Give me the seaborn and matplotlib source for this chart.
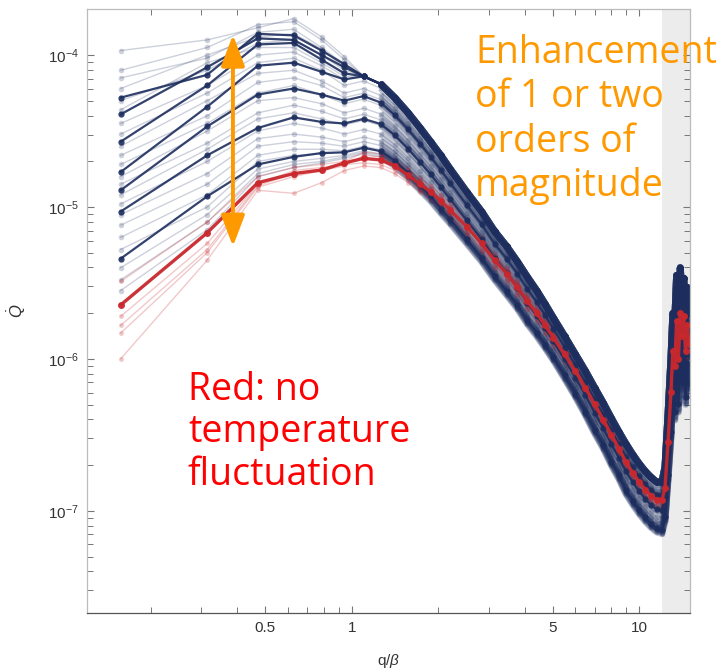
import numpy as np
import pandas as pd
import seaborn as sns
import matplotlib.pyplot as plt
from matplotlib.ticker import FixedLocator, FixedFormatter, LogLocator, NullFormatter

# q/beta columns where the curves still differ
q_low = [0.157, 0.314, 0.471, 0.628, 0.785, 0.942]
# shared high-q part
q_tail = [1.10, 1.26, 1.41, 1.57, 1.73, 1.88, 2.04, 2.20, 2.51, 2.83, 3.14,
          3.46, 3.77, 4.08, 4.40, 4.71, 5.03, 5.50, 6.00, 6.50, 7.00, 7.50,
          8.00, 8.50, 9.00, 9.50, 10.0, 10.5, 11.0, 11.5, 12.0, 12.3, 12.6,
          12.9, 13.1, 13.3, 13.5, 13.7, 13.9, 14.1, 14.3, 14.5, 14.7, 14.9]

# log10(Q) of the reference (no temperature fluctuation) curve
red_low = [-5.645, -5.17, -4.84, -4.78, -4.757, -4.71]
red_tail = [-4.68, -4.69, -4.73, -4.79, -4.85, -4.90, -4.96, -5.02, -5.13,
            -5.24, -5.35, -5.44, -5.53, -5.62, -5.70, -5.78, -5.86, -5.97,
            -6.08, -6.19, -6.30, -6.40, -6.50, -6.59, -6.68, -6.75, -6.81,
            -6.86, -6.90, -6.93, -6.93, -6.85, -6.55, -6.22, -5.95, -6.05,
            -5.75, -6.00, -5.70, -5.85, -5.72, -5.95, -5.78, -5.90]

# spread of the blue bundle around the red curve (decades)
band_up = [0.54, 0.50, 0.45, 0.41, 0.37, 0.33, 0.30, 0.27, 0.23, 0.21, 0.19,
           0.18, 0.17, 0.16, 0.15, 0.14, 0.13, 0.12, 0.11, 0.11, 0.11, 0.11,
           0.11, 0.11, 0.12, 0.12, 0.12, 0.12, 0.12, 0.12, 0.12, 0.14, 0.18,
           0.22, 0.25, 0.30, 0.30, 0.30, 0.30, 0.28, 0.25, 0.25, 0.25, 0.20]
band_lo = [0.03, 0.02, 0.00, -0.02, -0.04, -0.06, -0.08, -0.09, -0.11, -0.12,
           -0.13, -0.14, -0.14, -0.15, -0.15, -0.15, -0.15, -0.16, -0.17,
           -0.18, -0.19, -0.19, -0.20, -0.20, -0.21, -0.21, -0.21, -0.21,
           -0.21, -0.21, -0.22, -0.22, -0.25, -0.30, -0.30, -0.35, -0.35,
           -0.35, -0.30, -0.35, -0.30, -0.35, -0.30, -0.30]

# highlighted fluctuation runs, log10(Q) at q_low
blue_dark = [
    [-4.28, -4.13, -3.86, -3.87, -3.97, -4.06],
    [-4.39, -4.08, -3.89, -3.90, -4.00, -4.08],
    [-4.57, -4.20, -3.93, -3.92, -4.03, -4.12],
    [-4.77, -4.34, -4.07, -4.05, -4.11, -4.16],
    [-4.89, -4.47, -4.26, -4.22, -4.26, -4.30],
    [-5.03, -4.66, -4.48, -4.41, -4.44, -4.45],
    [-5.34, -4.93, -4.72, -4.67, -4.645, -4.64],
]

# remaining fluctuation runs
blue_faint = [
    [-3.97, -3.90, -3.82, -3.76, -3.88, -4.01],
    [-4.10, -3.95, -3.80, -3.78, -3.90, -4.03],
    [-4.15, -4.02, -3.85, -3.83, -3.95, -4.06],
    [-4.22, -4.00, -3.88, -3.86, -3.96, -4.08],
    [-4.30, -4.10, -3.92, -3.90, -4.00, -4.10],
    [-4.36, -4.05, -3.95, -3.95, -4.05, -4.14],
    [-4.45, -4.20, -4.00, -3.98, -4.07, -4.16],
    [-4.52, -4.25, -4.05, -4.02, -4.10, -4.20],
    [-4.60, -4.30, -4.12, -4.10, -4.17, -4.25],
    [-4.66, -4.40, -4.18, -4.15, -4.20, -4.28],
    [-4.72, -4.45, -4.25, -4.20, -4.26, -4.32],
    [-4.80, -4.50, -4.30, -4.28, -4.32, -4.38],
    [-4.85, -4.58, -4.38, -4.33, -4.37, -4.42],
    [-4.92, -4.62, -4.42, -4.38, -4.42, -4.46],
    [-4.98, -4.70, -4.50, -4.45, -4.48, -4.52],
    [-5.05, -4.78, -4.55, -4.52, -4.54, -4.57],
    [-5.12, -4.85, -4.60, -4.57, -4.58, -4.60],
    [-5.20, -4.92, -4.66, -4.62, -4.62, -4.63],
    [-5.28, -5.00, -4.70, -4.66, -4.65, -4.64],
    [-5.40, -5.05, -4.75, -4.70, -4.68, -4.66],
    [-5.48, -5.10, -4.78, -4.72, -4.70, -4.67],
    [-5.55, -5.15, -4.80, -4.74, -4.71, -4.68],
]

# faint red runs and their offset from the red curve at high q
red_faint = [
    [-5.49, -5.10, -4.80, -4.74, -4.72, -4.70],
    [-5.72, -5.24, -4.85, -4.76, -4.74, -4.72],
    [-5.83, -5.30, -4.87, -4.80, -4.76, -4.73],
    [-6.00, -5.35, -4.89, -4.91, -4.84, -4.76],
    [-5.78, -5.28, -4.86, -4.78, -4.75, -4.71],
]
red_faint_shift = [0.04, -0.03, 0.02, -0.05, 0.0]

NAVY = "#1d2e5e"
RED = "#c9282d"
ORANGE = "#ff9900"


def build(curves, group):
    rows = []
    up = np.array(band_up)
    lo = np.array(band_lo)
    for i, low in enumerate(curves):
        if group == "red_faint":
            tail = np.array(red_tail) + red_faint_shift[i]
        else:
            a = (low[-1] - red_low[-1] - band_lo[0]) / (band_up[0] - band_lo[0])
            a = min(max(a, 0.0), 1.0)
            tail = np.array(red_tail) + a * up + (1 - a) * lo
        logq = list(low) + list(tail)
        for x, y in zip(q_low + q_tail, logq):
            rows.append({"q": x, "Q": 10 ** y, "run": i, "group": group})
    return pd.DataFrame(rows)


df_faint = build(blue_faint, "blue_faint")
df_dark = build(blue_dark, "blue_dark")
df_rfaint = build(red_faint, "red_faint")
df_red = pd.DataFrame({"q": q_low + q_tail,
                       "Q": [10 ** v for v in red_low + red_tail]})
df_blue_tail = pd.concat([df_faint, df_dark.assign(run=df_dark["run"] + 100)])
df_blue_tail = df_blue_tail[df_blue_tail["q"] >= 1.2]

sns.set_theme(style="ticks")
plt.rcParams["font.family"] = ["Liberation Sans", "DejaVu Sans"]
plt.rcParams["mathtext.fontset"] = "custom"
plt.rcParams["mathtext.rm"] = "Liberation Sans"
plt.rcParams["mathtext.it"] = "Liberation Sans:italic"

fig = plt.figure(figsize=(7.2, 6.69), dpi=100)
ax = fig.add_axes([0.121, 0.084, 0.837, 0.902])
ax.set_xscale("log")
ax.set_yscale("log")

ax.axvspan(12.0, 15.0, color="#ececec", zorder=0, lw=0)

# the dense marker band at high q
sns.lineplot(data=df_blue_tail, x="q", y="Q", units="run", estimator=None,
             color=NAVY, alpha=0.25, lw=5, solid_capstyle="butt", ax=ax)
sns.lineplot(data=df_faint, x="q", y="Q", units="run", estimator=None,
             color=NAVY, alpha=0.22, lw=1.0, marker="o", markersize=4,
             markeredgewidth=0, ax=ax)
sns.lineplot(data=df_rfaint, x="q", y="Q", units="run", estimator=None,
             color=RED, alpha=0.25, lw=1.0, marker="o", markersize=3.5,
             markeredgewidth=0, ax=ax)
sns.lineplot(data=df_dark, x="q", y="Q", units="run", estimator=None,
             color=NAVY, alpha=0.9, lw=1.6, marker="o", markersize=4.5,
             markeredgewidth=0, ax=ax)
sns.lineplot(data=df_red, x="q", y="Q", color=RED, alpha=0.95, lw=2.4,
             marker="o", markersize=5, markeredgewidth=0, ax=ax)

ax.set_xlim(0.12, 15.0)
ax.set_ylim(2.13e-8, 2.0e-4)

ax.xaxis.set_major_locator(FixedLocator([0.5, 1, 5, 10]))
ax.xaxis.set_major_formatter(FixedFormatter(["0.5", "1", "5", "10"]))
ax.xaxis.set_minor_locator(FixedLocator([0.2, 0.3, 0.4, 0.6, 0.7, 0.8, 0.9,
                                         2, 3, 4, 6, 7, 8, 9]))
ax.xaxis.set_minor_formatter(NullFormatter())
ax.yaxis.set_major_locator(FixedLocator([1e-7, 1e-6, 1e-5, 1e-4]))
ax.yaxis.set_major_formatter(FixedFormatter([r"$10^{-7}$", r"$10^{-6}$",
                                             r"$10^{-5}$", r"$10^{-4}$"]))
ax.yaxis.set_minor_locator(LogLocator(base=10, subs=np.arange(2, 10)))
ax.yaxis.set_minor_formatter(NullFormatter())

ax.tick_params(which="both", direction="in", top=True, right=True,
               color="#777777", labelcolor="#333333", labelsize=11, pad=6)
ax.tick_params(which="major", length=5, width=0.8)
ax.tick_params(which="minor", length=4, width=0.7)
for side in ["left", "top", "right"]:
    ax.spines[side].set_color("#bbbbbb")
ax.spines["bottom"].set_color("#555555")
for s in ax.spines.values():
    s.set_linewidth(0.9)

ax.set_xlabel(r"q/$\beta$", fontsize=11, color="#333333", labelpad=12)
ax.set_ylabel(r"$\dot{Q}$", fontsize=12, color="#333333", labelpad=14)

ax.annotate("", xy=(0.386, 1.36e-4), xytext=(0.386, 5.5e-6),
            arrowprops=dict(arrowstyle="<|-|>,head_length=0.95,head_width=0.36",
                            color=ORANGE, lw=2.8, mutation_scale=20,
                            shrinkA=0, shrinkB=0),
            zorder=10)

fig.text(475 / 720, 1 - 34 / 669, "Enhancement\nof 1 or two\norders of\nmagnitude",
         color=ORANGE, fontsize=27, family=["Open Sans", "DejaVu Sans"],
         va="top", ha="left", linespacing=1.22)
fig.text(188 / 720, 1 - 371 / 669, "Red: no\ntemperature\nfluctuation",
         color="#ff0000", fontsize=27, family=["Open Sans", "DejaVu Sans"],
         va="top", ha="left", linespacing=1.15)

fig.savefig("out.png", dpi=100)
